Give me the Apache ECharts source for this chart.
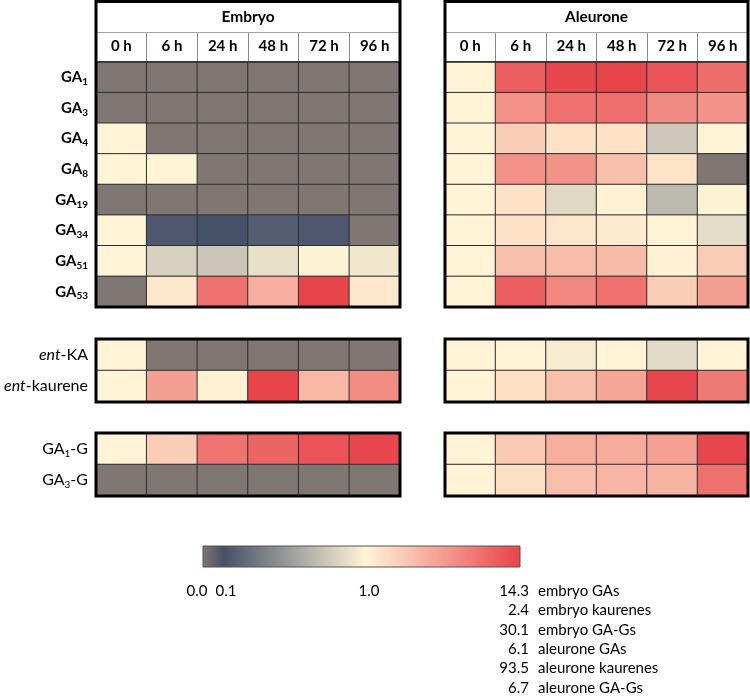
<!DOCTYPE html>
<html><head><meta charset="utf-8">
<script src="https://cdn.jsdelivr.net/npm/echarts@6/dist/echarts.min.js"></script>
<style>html,body{margin:0;padding:0;background:#fff}#c{width:750px;height:699px}</style>
</head><body><div id="c"></div>
<script>
// ---------- data ----------
const hours = ['0 h', '6 h', '24 h', '48 h', '72 h', '96 h'];
const gaRows = ['GA1', 'GA3', 'GA4', 'GA8', 'GA19', 'GA34', 'GA51', 'GA53'];
const kaureneRows = ['ent-KA', 'ent-kaurene'];
const gaGRows = ['GA1-G', 'GA3-G'];

// relative level vs 0 h (0 = not detected)
const embryoGAs = [
  [0, 0, 0, 0, 0, 0],
  [0, 0, 0, 0, 0, 0],
  [1, 0, 0, 0, 0, 0],
  [1, 1, 0, 0, 0, 0],
  [0, 0, 0, 0, 0, 0],
  [1, 0.11, 0.10, 0.12, 0.11, 0],
  [1, 0.60, 0.52, 0.76, 0.97, 0.83],
  [0, 1.2, 7.2, 2.8, 14.0, 1.2]
];
const aleuroneGAs = [
  [1, 4.6, 5.9, 6.0, 5.1, 3.95],
  [1, 2.75, 3.8, 3.9, 2.9, 2.7],
  [1, 1.49, 1.2, 1.2, 0.53, 0.98],
  [1, 2.75, 2.7, 1.72, 1.18, 0],
  [1, 1.2, 0.68, 1.03, 0.44, 0.97],
  [1, 1.2, 1.15, 1.1, 1.0, 0.71],
  [1, 1.72, 1.75, 1.78, 1.02, 1.5],
  [1, 4.6, 3.05, 3.8, 1.48, 2.4]
];
const embryoKaurenes = [
  [1, 0, 0, 0, 0, 0],
  [1, 1.52, 1.02, 2.38, 1.35, 1.67]
];
const aleuroneKaurenes = [
  [1, 1.0, 0.89, 1.0, 0.70, 1.0],
  [1, 1.72, 3.9, 7.4, 85, 23]
];
const embryoGAGs = [
  [1, 2.1, 11.6, 15.8, 21.5, 28],
  [0, 0, 0, 0, 0, 0]
];
const aleuroneGAGs = [
  [1, 1.58, 2.14, 2.18, 2.45, 6.45],
  [1, 1.26, 1.77, 1.95, 2.0, 4.1]
];
const scaleTicks = ['0.0', '0.1', '1.0'];
const scaleMaxValues = [14.3, 2.4, 30.1, 6.1, 93.5, 6.7];
const scaleMaxNames = ['embryo GAs', 'embryo kaurenes', 'embryo GA-Gs', 'aleurone GAs', 'aleurone kaurenes', 'aleurone GA-Gs'];

// ---------- style ----------
const FONT = 'Lato, "Liberation Sans", sans-serif';
const STOP_POS = [0, 0.066, 0.514, 1];
const STOP_COL = ['#7f7773', '#465069', '#fff4d6', '#e8434a'];

function hex2rgb(h) { return [1, 3, 5].map(i => parseInt(h.substr(i, 2), 16)); }
function gradColor(p) {
  for (let i = 1; i < STOP_POS.length; i++) {
    if (p <= STOP_POS[i]) {
      const t = (p - STOP_POS[i - 1]) / (STOP_POS[i] - STOP_POS[i - 1]);
      const a = hex2rgb(STOP_COL[i - 1]), b = hex2rgb(STOP_COL[i]);
      return 'rgb(' + a.map((v, k) => Math.round(v + (b[k] - v) * t)).join(',') + ')';
    }
  }
  return STOP_COL[STOP_COL.length - 1];
}
const vmColors = [];
for (let i = 0; i <= 400; i++) vmColors.push(gradColor(i / 400));

// position on the colour scale
function scalePos(f, max) {
  if (f <= 0) return 0;
  if (f < 0.1) return STOP_POS[1] * f / 0.1;
  if (f <= 1) return STOP_POS[1] + (STOP_POS[2] - STOP_POS[1]) * (Math.log10(f) + 1);
  return STOP_POS[2] + (1 - STOP_POS[2]) * Math.min(1, Math.log10(f) / Math.log10(max));
}

const panels = [
  { values: embryoGAs, rows: gaRows, max: scaleMaxValues[0], left: 96, top: 62, width: 304, height: 245, yLab: true, xLab: true },
  { values: aleuroneGAs, rows: gaRows, max: scaleMaxValues[3], left: 445, top: 62, width: 303, height: 245, yLab: false, xLab: true },
  { values: embryoKaurenes, rows: kaureneRows, max: scaleMaxValues[1], left: 96, top: 339, width: 304, height: 63, yLab: true, xLab: false },
  { values: aleuroneKaurenes, rows: kaureneRows, max: scaleMaxValues[4], left: 445, top: 339, width: 303, height: 63, yLab: false, xLab: false },
  { values: embryoGAGs, rows: gaGRows, max: scaleMaxValues[2], left: 96, top: 433, width: 304, height: 63, yLab: true, xLab: false },
  { values: aleuroneGAGs, rows: gaGRows, max: scaleMaxValues[5], left: 445, top: 433, width: 303, height: 63, yLab: false, xLab: false }
];

function richName(name) {
  let m = name.match(/^GA(\d+)$/);
  if (m) return '{b|GA}{bs|' + m[1] + '}';
  m = name.match(/^GA(\d+)-G$/);
  if (m) return '{r|GA}{rs|' + m[1] + '}{r|-G}';
  m = name.match(/^ent(-.*)$/);
  if (m) return '{i|ent}{r|' + m[1] + '}';
  return '{r|' + name + '}';
}
const richStyles = {
  b: { fontFamily: FONT, fontSize: 15, fontWeight: 'bold', color: '#000', lineHeight: 19 },
  bs: { fontFamily: FONT, fontSize: 10, fontWeight: 'bold', color: '#000', lineHeight: 9, verticalAlign: 'bottom' },
  r: { fontFamily: FONT, fontSize: 16, fontWeight: 'normal', color: '#000', lineHeight: 20 },
  rs: { fontFamily: FONT, fontSize: 10, fontWeight: 'normal', color: '#000', lineHeight: 10, verticalAlign: 'bottom' },
  i: { fontFamily: FONT, fontSize: 16, fontStyle: 'italic', fontWeight: 'normal', color: '#000', lineHeight: 20 }
};

const grids = [], xAxes = [], yAxes = [], series = [];
panels.forEach((p, k) => {
  grids.push({ left: p.left, top: p.top, width: p.width, height: p.height, containLabel: false });
  xAxes.push({
    type: 'category', data: hours, gridIndex: k, position: 'top', show: p.xLab,
    axisLine: { show: false },
    axisTick: { show: true, length: 30, interval: 0, lineStyle: { color: '#8a8a8a', width: 1 } },
    axisLabel: { interval: 0, margin: 8, fontFamily: FONT, fontSize: 15, fontWeight: 'bold', color: '#000' },
    splitLine: { show: false }
  });
  yAxes.push({
    type: 'category', data: p.rows, gridIndex: k, inverse: true, show: p.yLab,
    axisLine: { show: false }, axisTick: { show: false },
    axisLabel: { interval: 0, margin: 8, formatter: richName, rich: richStyles },
    splitLine: { show: false }
  });
  const data = [];
  p.values.forEach((row, r) => row.forEach((v, c) => data.push([c, r, scalePos(v, p.max), v])));
  series.push({
    type: 'heatmap', xAxisIndex: k, yAxisIndex: k, data: data,
    itemStyle: { borderColor: '#2e2e2e', borderWidth: 1 },
    emphasis: { disabled: true }, label: { show: false }, progressive: 0
  });
});

const graphics = [];
function rect(x, y, w, h) {
  graphics.push({ type: 'rect', z: 100, shape: { x, y, width: w, height: h }, style: { fill: 'none', stroke: '#000', lineWidth: 3 }, silent: true });
}
rect(96, 1.5, 304, 305.5); rect(445, 1.5, 303, 305.5);
rect(96, 339, 304, 63); rect(445, 339, 303, 63);
rect(96, 433, 304, 63); rect(445, 433, 303, 63);
function line(x1, y1, x2, y2, c, w) {
  graphics.push({ type: 'line', z: 90, shape: { x1, y1, x2, y2 }, style: { stroke: c, lineWidth: w }, silent: true });
}
line(96, 32.5, 400, 32.5, '#a8a8a8', 1);
line(445, 32.5, 748, 32.5, '#a8a8a8', 1);
line(96, 62, 400, 62, '#2e2e2e', 1.5);
line(445, 62, 748, 62, '#2e2e2e', 1.5);
function text(t, x, y, opt) {
  graphics.push({
    type: 'text', z: 100, x: x, y: y, silent: true,
    style: Object.assign({ text: t, fill: '#000', fontFamily: FONT, fontSize: 15, align: 'center', verticalAlign: 'middle', textAlign: 'center', textVerticalAlign: 'middle' }, opt || {})
  });
}
text('Embryo', 248, 17, { fontWeight: 'bold', fontSize: 15.5 });
text('Aleurone', 596.5, 17, { fontWeight: 'bold', fontSize: 15.5 });

// colour bar
const CB = { x: 203, y: 546, w: 317, h: 21 };
graphics.push({
  type: 'rect', z: 100, silent: true, shape: { x: CB.x, y: CB.y, width: CB.w, height: CB.h },
  style: {
    fill: new echarts.graphic.LinearGradient(0, 0, 1, 0, STOP_POS.map((s, i) => ({ offset: s, color: STOP_COL[i] }))),
    stroke: '#555', lineWidth: 1
  }
});
const tickX = [197, 226, 369];
scaleTicks.forEach((t, i) => text(t, tickX[i], 591));
scaleMaxValues.forEach((v, i) => {
  const y = 591 + i * 19.4;
  text(v.toFixed(1), 529, y, { align: 'right', textAlign: 'right' });
  text(scaleMaxNames[i], 538, y, { align: 'left', textAlign: 'left' });
});

const chart = echarts.init(document.getElementById('c'), null, { renderer: 'canvas' });
chart.setOption({
  animation: false,
  backgroundColor: '#fff',
  grid: grids, xAxis: xAxes, yAxis: yAxes, series: series,
  visualMap: { show: false, type: 'continuous', min: 0, max: 1, dimension: 2, seriesIndex: [0, 1, 2, 3, 4, 5], inRange: { color: vmColors } },
  graphic: graphics
});
</script></body></html>
